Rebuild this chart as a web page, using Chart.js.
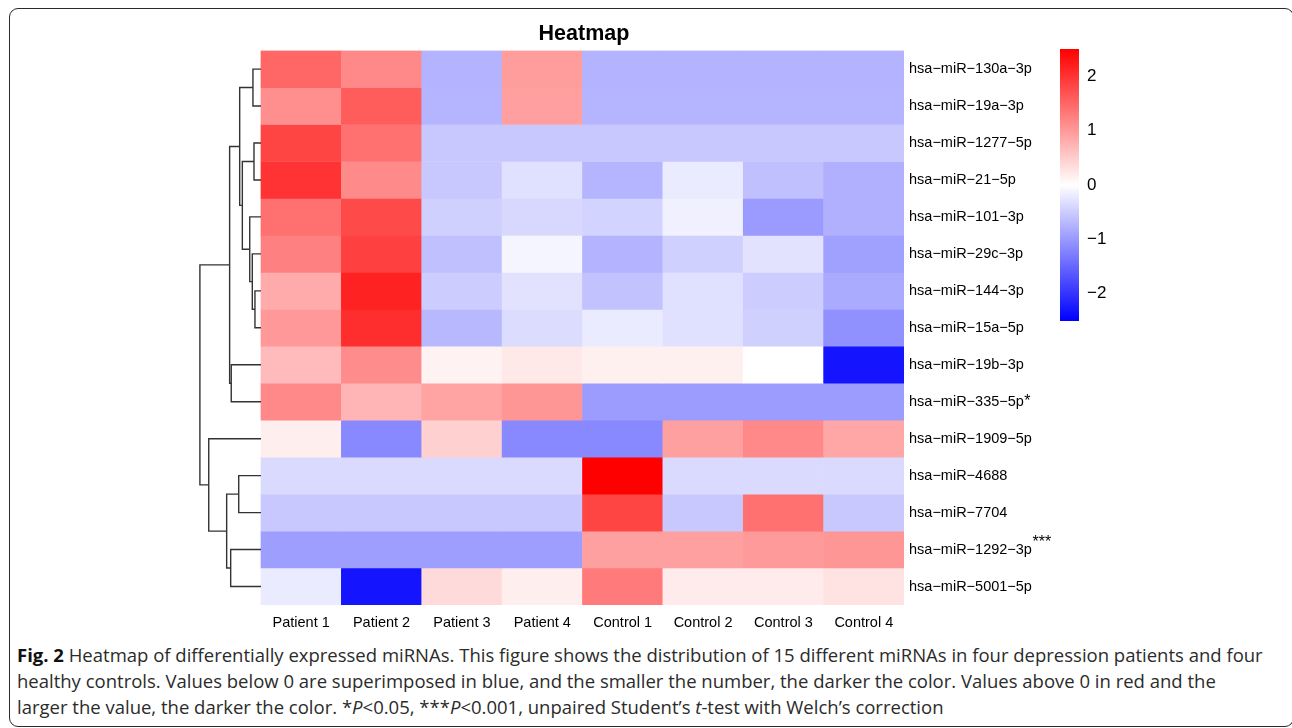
<!DOCTYPE html>
<html>
<head>
<meta charset="utf-8">
<script src="https://cdn.jsdelivr.net/npm/chart.js@4.4.1/dist/chart.umd.min.js"></script>
<style>
html,body{margin:0;padding:0;background:#fff;width:1292px;height:728px;overflow:hidden;position:relative;}
#frame{position:absolute;left:9px;top:8px;width:1285px;height:719px;border:1.6px solid #2a2a2a;border-radius:9px;box-sizing:border-box;}
#mainWrap{position:absolute;left:0;top:0;width:1168px;height:640px;}
#barWrap{position:absolute;left:1050px;top:30px;width:80px;height:310px;}
#caption{position:absolute;left:17px;top:642px;width:1272px;font-family:"Open Sans";font-size:18.5px;line-height:26px;color:#2b2b2b;white-space:nowrap;}
#caption b{color:#111;}
</style>
</head>
<body>
<div id="frame"></div>
<div id="mainWrap"><canvas id="main"></canvas></div>
<div id="barWrap"><canvas id="bar"></canvas></div>
<div id="caption"><b>Fig. 2</b> Heatmap of differentially expressed miRNAs. This figure shows the distribution of 15 different miRNAs in four depression patients and four<br>healthy controls. Values below 0 are superimposed in blue, and the smaller the number, the darker the color. Values above 0 in red and the<br>larger the value, the darker the color. *<i>P</i>&lt;0.05, ***<i>P</i>&lt;0.001, unpaired Student’s <i>t</i>-test with Welch’s correction</div>
<script>
// ---------- data ----------
const samples = ['Patient 1','Patient 2','Patient 3','Patient 4','Control 1','Control 2','Control 3','Control 4'];
const mirnas = ['hsa−miR−130a−3p','hsa−miR−19a−3p','hsa−miR−1277−5p','hsa−miR−21−5p','hsa−miR−101−3p',
  'hsa−miR−29c−3p','hsa−miR−144−3p','hsa−miR−15a−5p','hsa−miR−19b−3p','hsa−miR−335−5p',
  'hsa−miR−1909−5p','hsa−miR−4688','hsa−miR−7704','hsa−miR−1292−3p','hsa−miR−5001−5p'];
const significance = ['','','','','','','','','','*','','','','***',''];

const patient1 = [1.5, 1.1, 1.83, 2.0, 1.4, 1.25, 0.82, 1.0, 0.67, 1.17, 0.17, -0.36, -0.54, -0.95, -0.2];
const patient2 = [1.17, 1.6, 1.4, 1.15, 1.77, 1.87, 2.17, 2.05, 1.13, 0.73, -1.17, -0.36, -0.54, -0.95, -2.3];
const patient3 = [-0.75, -0.73, -0.54, -0.54, -0.46, -0.62, -0.5, -0.7, 0.13, 0.9, 0.46, -0.36, -0.54, -0.95, 0.36];
const patient4 = [0.96, 0.94, -0.54, -0.3, -0.38, -0.1, -0.28, -0.34, 0.23, 1.03, -1.17, -0.36, -0.54, -0.95, 0.17];
const control1 = [-0.75, -0.73, -0.54, -0.73, -0.43, -0.75, -0.6, -0.2, 0.15, -0.97, -1.17, 2.5, 1.83, 0.93, 1.3];
const control2 = [-0.75, -0.73, -0.54, -0.2, -0.15, -0.46, -0.3, -0.3, 0.15, -0.97, 0.93, -0.36, -0.54, 0.93, 0.2];
const control3 = [-0.75, -0.73, -0.54, -0.62, -0.99, -0.28, -0.5, -0.46, 0.0, -0.97, 1.17, -0.36, 1.4, 0.99, 0.2];
const control4 = [-0.75, -0.73, -0.54, -0.77, -0.77, -0.93, -0.83, -1.09, -2.3, -0.97, 0.87, -0.36, -0.54, 1.03, 0.28];
const columns = [patient1, patient2, patient3, patient4, control1, control2, control3, control4];

// row dendrogram (linkage): leaves 0..14, merge k creates node 15+k
const mergeLeft   = [6, 2, 0, 5, 4, 16, 17, 11, 8, 13, 21, 22, 10, 25];
const mergeRight  = [7, 3, 1, 15, 18, 19, 20, 12, 9, 14, 23, 24, 26, 27];
const mergeHeight = [0.075, 0.087, 0.10, 0.108, 0.14, 0.232, 0.265, 0.277, 0.37, 0.377, 0.39, 0.427, 0.65, 0.76];

const legendMin = -2.5, legendMax = 2.5;
const legendTicks = [-2, -1, 0, 1, 2];

// ---------- helpers ----------
function colorFor(v) {
  const t = Math.min(1, Math.abs(v) / legendMax);
  const c = Math.round(255 * (1 - t));
  return v >= 0 ? `rgb(255,${c},${c})` : `rgb(${c},${c},255)`;
}
const fmt = v => (v < 0 ? '−' + Math.abs(v) : String(v));

Chart.defaults.font.family = '"Liberation Sans", Arial, sans-serif';
Chart.defaults.color = '#000';

// heatmap cell datasets (one per miRNA row)
const cellSets = mirnas.map((name, r) => ({
  type: 'bar',
  label: name,
  data: samples.map((s, c) => ({ x: c + 0.5, y: [r, r + 1], v: columns[c][r] })),
  backgroundColor: ctx => colorFor(ctx.raw.v),
  borderWidth: 0,
  grouped: false,
  barPercentage: 1,
  categoryPercentage: 1,
  order: 2
}));

// dendrogram datasets
const nodeY = mirnas.map((_, r) => r + 0.5);
const nodeH = mirnas.map(() => 0);
const dendroSets = mergeHeight.map((h, k) => {
  const a = mergeLeft[k], b = mergeRight[k];
  const ya = nodeY[a], yb = nodeY[b];
  nodeY.push((ya + yb) / 2);
  nodeH.push(h);
  return {
    type: 'line',
    data: [{ x: -nodeH[a], y: ya }, { x: -h, y: ya }, { x: -h, y: yb }, { x: -nodeH[b], y: yb }],
    borderColor: '#333',
    borderWidth: 1.4,
    pointRadius: 0,
    tension: 0,
    fill: false,
    clip: false,
    order: 1
  };
});

const sigPlugin = {
  id: 'sig',
  afterDraw(chart) {
    const { ctx, chartArea, scales } = chart;
    ctx.save();
    significance.forEach((m, i) => {
      if (!m) return;
      ctx.font = '14.5px "Liberation Sans"';
      const w = ctx.measureText(mirnas[i]).width;
      const x = chartArea.right + 5 + w + 0.5;
      const yc = scales.y.getPixelForValue(i + 0.5);
      ctx.font = '16px "Liberation Sans"';
      ctx.fillStyle = '#000';
      ctx.textBaseline = 'alphabetic';
      ctx.textAlign = 'left';
      ctx.fillText(m, x, yc + (m.length === 1 ? 4 : -3));
    });
    ctx.restore();
  }
};

new Chart(document.getElementById('main'), {
  type: 'bar',
  data: { datasets: [...cellSets, ...dendroSets] },
  options: {
    responsive: true,
    maintainAspectRatio: false,
    animation: false,
    events: [],
    layout: { padding: 0 },
    plugins: {
      legend: { display: false },
      tooltip: { enabled: false },
      title: {
        display: true,
        text: 'Heatmap',
        color: '#000',
        font: { size: 21.5, weight: 'bold' },
        padding: { top: 21, bottom: 3.8 }
      }
    },
    scales: {
      x: {
        type: 'linear',
        offset: false,
        min: -3.247,
        max: samples.length,
        grid: { display: false, drawTicks: false },
        border: { display: false },
        afterBuildTicks: s => { s.ticks = samples.map((_, i) => ({ value: i + 0.5 })); },
        afterFit: s => { s.height = 35; },
        ticks: {
          autoSkip: false, maxRotation: 0, minRotation: 0, padding: 9,
          font: { size: 14.5 }, color: '#000',
          callback: (v, i) => samples[i]
        }
      },
      y: {
        type: 'linear',
        position: 'right',
        reverse: true,
        offset: false,
        min: 0,
        max: mirnas.length,
        grid: { display: false, drawTicks: false },
        border: { display: false },
        afterBuildTicks: s => { s.ticks = mirnas.map((_, i) => ({ value: i + 0.5 })); },
        afterFit: s => { s.width = 264; },
        ticks: {
          autoSkip: false, padding: 5, font: { size: 14.5 }, color: '#000',
          callback: (v, i) => mirnas[i]
        }
      }
    }
  },
  plugins: [sigPlugin]
});

// colour key
new Chart(document.getElementById('bar'), {
  type: 'bar',
  data: {
    labels: ['key'],
    datasets: [{
      data: [[legendMin, legendMax]],
      backgroundColor: ctx => {
        const a = ctx.chart.chartArea;
        if (!a) return '#fff';
        const g = ctx.chart.ctx.createLinearGradient(0, a.bottom, 0, a.top);
        g.addColorStop(0, colorFor(legendMin));
        g.addColorStop(0.5, colorFor(0));
        g.addColorStop(1, colorFor(legendMax));
        return g;
      },
      borderWidth: 0,
      barPercentage: 1,
      categoryPercentage: 1
    }]
  },
  options: {
    responsive: true,
    maintainAspectRatio: false,
    animation: false,
    events: [],
    layout: { padding: { left: 10, right: 0, top: 19, bottom: 19 } },
    plugins: { legend: { display: false }, tooltip: { enabled: false } },
    scales: {
      x: { display: false },
      y: {
        position: 'right',
        min: legendMin,
        max: legendMax,
        grid: { display: false, drawTicks: false },
        border: { display: false },
        afterBuildTicks: s => { s.ticks = legendTicks.map(v => ({ value: v })); },
        afterFit: s => { s.width = 51; },
        ticks: { padding: 8, font: { size: 17 }, color: '#000', callback: v => fmt(v) }
      }
    }
  }
});
</script>
</body>
</html>
